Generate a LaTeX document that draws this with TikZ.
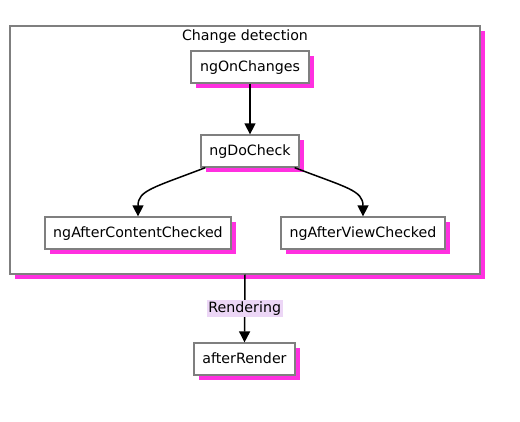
\documentclass[tikz,border=0pt]{standalone}
\usepackage{fontspec}
\setmainfont{DejaVu Sans}
\usetikzlibrary{arrows.meta,shadows,calc}
\definecolor{hookpink}{HTML}{FF30E0}
\definecolor{edgelav}{HTML}{ECD6F6}
\definecolor{boxgray}{HTML}{7F7F7F}

\tikzset{
  hook/.style={draw=boxgray, line width=1.3pt, fill=white, inner sep=0pt,
    minimum height=32pt, text height=12pt, text depth=3pt,
    drop shadow={shadow xshift=5pt, shadow yshift=-5pt, fill=hookpink, opacity=1}},
  flow/.style={line width=1.5pt, -{Triangle[length=11pt,width=11pt]}}
}

\begin{document}
\begin{tikzpicture}[x=1pt, y=-1pt, every node/.style={font=\fontsize{14.2}{16}\selectfont}]
			\useasboundingbox (0,0) rectangle (520,421);
			% change detection cluster
			\node[hook, minimum width=470pt, minimum height=248pt, text height=0pt, text depth=0pt] (cd) at (245,150) {};
			\node[below=1pt] (cdt) at (cd.north) {Change detection};
			% lifecycle hooks
			\node[hook, minimum width=118pt] (oc) at (250,67) {ngOnChanges};
			\node[hook, minimum width=98pt] (dc) at (250,151) {ngDoCheck};
			\node[hook, minimum width=186pt] (acc) at (138,233) {ngAfterContentChecked};
			\node[hook, minimum width=164pt] (avc) at (363,233) {ngAfterViewChecked};
			\node[hook, minimum width=101pt] (ar) at (244.5,359) {afterRender};
			% edges
			\draw[flow] (oc) -- (dc);
			\draw[flow] ([xshift=5pt]dc.south west) .. controls +(-52,20) and +(0,-26) .. (acc.north);
			\draw[flow] ([xshift=-5pt]dc.south east) .. controls +(52,20) and +(0,-26) .. (avc.north);
			\draw[flow] (cd.south) -- node[fill=edgelav, inner sep=1.5pt] (rl) {Rendering} (ar.north);
		\end{tikzpicture}
\end{document}
